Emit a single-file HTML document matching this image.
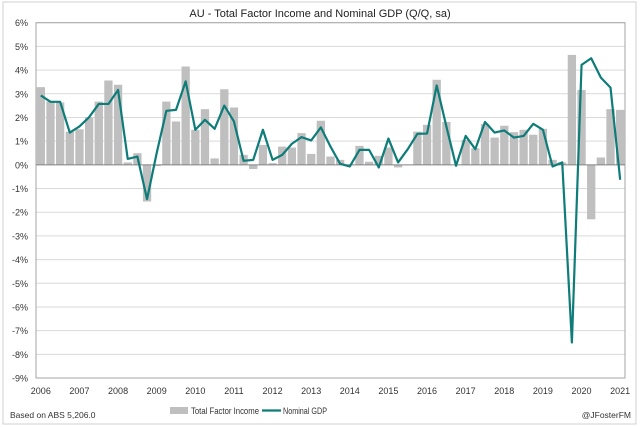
<!DOCTYPE html>
<html><head><meta charset="utf-8"><style>
html,body{margin:0;padding:0;background:#fff;}
svg{display:block;font-family:"Liberation Sans",sans-serif;}
</style></head><body>
<svg id="chart" width="640" height="427">
<rect x="3" y="2" width="633" height="422" fill="#fff" stroke="#d0d0d0"/>
<text x="320" y="17" text-anchor="middle" font-size="11" fill="#222">AU - Total Factor Income and Nominal GDP (Q/Q, sa)</text>
<g id="grid"></g><g id="bars"></g><g id="axes"></g><g id="line"></g>
<g>
<rect x="170" y="407" width="18" height="7" fill="#bfbfbf"/>
<text x="191" y="414" font-size="9" textLength="68" lengthAdjust="spacingAndGlyphs" fill="#333">Total Factor Income</text>
<line x1="262" y1="410.5" x2="281" y2="410.5" stroke="#0e7c78" stroke-width="2.2"/>
<text x="283" y="414" font-size="9" textLength="44" lengthAdjust="spacingAndGlyphs" fill="#333">Nominal GDP</text>
</g>
<text x="10" y="418" font-size="8.5" fill="#333">Based on ABS 5,206.0</text>
<text x="631" y="418" text-anchor="end" font-size="8.5" fill="#333">@JFosterFM</text>
</svg>
<script>
const years = [2006,2007,2008,2009,2010,2011,2012,2013,2014,2015,2016,2017,2018,2019,2020,2021];
const yTicks = [6,5,4,3,2,1,0,-1,-2,-3,-4,-5,-6,-7,-8,-9];
const tfi = [3.28,2.67,2.63,1.4,1.5,2.0,2.67,3.56,3.38,0.1,0.49,-1.55,-0.05,2.67,1.83,4.15,1.48,2.35,0.27,3.19,2.42,0.42,-0.18,0.84,0.07,0.77,0.73,1.34,0.46,1.86,0.35,0.21,0.02,0.8,0.13,0.38,0.73,-0.11,0.0,1.4,1.69,3.59,1.81,0.0,1.05,0.7,1.72,1.15,1.65,1.38,1.48,1.27,1.52,0.21,0.1,4.64,3.16,-2.3,0.31,2.35,2.32];
const gdp = [2.93,2.66,2.66,1.36,1.62,2.01,2.57,2.57,3.16,0.25,0.35,-1.45,0.5,2.28,2.32,3.52,1.48,1.9,1.52,2.5,1.83,0.17,0.21,1.48,0.21,0.42,0.89,1.17,1.03,1.58,0.77,0.04,-0.07,0.63,0.63,-0.11,1.11,0.1,0.66,1.31,1.32,3.35,1.62,-0.04,1.22,0.66,1.81,1.36,1.45,1.15,1.22,1.73,1.48,-0.07,0.1,-7.5,4.22,4.5,3.68,3.26,-0.63];
const NS='http://www.w3.org/2000/svg';
const L=36,R=625,T=22.7,B=378,N=tfi.length;
const bw=(R-L)/N;
const xc=i=>L+bw*(i+0.5);
const y=v=>T+(6-v)*(B-T)/15;
function mk(t,a,p){const e=document.createElementNS(NS,t);for(const k in a)e.setAttribute(k,a[k]);p.appendChild(e);return e;}
const grid=document.getElementById('grid'),axes=document.getElementById('axes'),bars=document.getElementById('bars'),line=document.getElementById('line');
yTicks.forEach(t=>{
 if(t!==0){const g=mk('line',{x1:L,x2:R,y1:y(t),y2:y(t),stroke:'#d9d9d9','stroke-width':1},grid);
 
 }
 const tx=mk('text',{x:L-8,y:y(t)+3.5,'text-anchor':'end','font-size':9,fill:'#333'},axes);
 tx.textContent=t+'%';
 
 
});
const fr=mk('rect',{x:L,y:T,width:R-L,height:B-T,fill:'none',stroke:'#a6a6a6'},axes);


const z=mk('line',{x1:L,x2:R,y1:y(0),y2:y(0),stroke:'#808080','stroke-width':1},axes);


years.forEach((yr,k)=>{
 const tx=mk('text',{x:xc(k*4),y:394,'text-anchor':'middle','font-size':9,fill:'#333'},axes);
 tx.textContent=yr;
 
 
});
tfi.forEach((v,i)=>{
 const r=mk('rect',{x:xc(i)-bw*0.43,width:bw*0.86,y:Math.min(y(v),y(0)),height:Math.abs(y(v)-y(0)),fill:'#bfbfbf'},bars);
 
 
});
const p=mk('polyline',{points:gdp.map((v,i)=>xc(i)+','+y(v)).join(' '),fill:'none',stroke:'#0e7c78','stroke-width':2.2,'stroke-linejoin':'round'},line);


</script>
</body></html>
